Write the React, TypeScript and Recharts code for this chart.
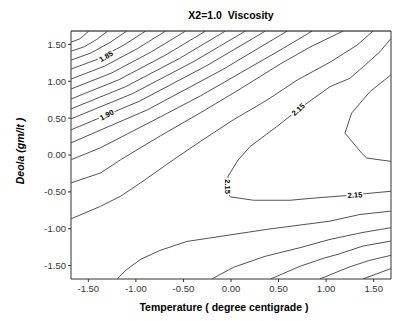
import React from "react";
import { ScatterChart, Scatter, XAxis, YAxis } from "recharts";

const FONT = '"Liberation Sans", Arial, sans-serif';
const LIM = 1.682;

const xTicks = [-1.5, -1, -0.5, 0, 0.5, 1, 1.5];
const yTicks = [-1.5, -1, -0.5, 0, 0.5, 1, 1.5];

// contour lines, [temperature, deola] pairs
const c01 = [[-1.68, 1.531], [-1.585, 1.578], [-1.496, 1.68]];
const c02 = [[-1.68, 1.409], [-1.542, 1.468], [-1.41, 1.569], [-1.297, 1.68]];
const c03 = [[-1.68, 1.288], [-1.472, 1.384], [-1.27, 1.528], [-1.097, 1.68]];
const c04 = [[-1.68, 1.166], [-1.403, 1.299], [-1.131, 1.488], [-0.898, 1.68]];
const c05 = [[-1.68, 1.031], [-1.329, 1.205], [-0.984, 1.443], [-0.689, 1.68]];
const c06 = [[-1.68, 0.896], [-1.256, 1.112], [-0.838, 1.399], [-0.479, 1.68]];
const c07 = [[-1.68, 0.761], [-1.182, 1.019], [-0.691, 1.353], [-0.269, 1.68]];
const c08 = [[-1.68, 0.626], [-1.109, 0.926], [-0.544, 1.308], [-0.06, 1.68]];
const c09 = [[-1.68, 0.491], [-1.036, 0.832], [-0.397, 1.264], [0.15, 1.68]];
const c10 = [[-1.68, 0.342], [-0.962, 0.73], [-0.251, 1.215], [0.36, 1.68]];
const c11 = [[-1.68, 0.166], [-0.882, 0.611], [-0.089, 1.158], [0.59, 1.68]];
const c12 = [
  [-1.68, -0.064], [-1.37, 0.099], [-1.087, 0.288], [-0.741, 0.518],
  [-0.322, 0.801], [0.097, 1.112], [0.517, 1.423], [0.852, 1.68],
];
const c13 = [
  [-1.68, -0.378], [-1.37, -0.243], [-1.16, -0.064], [-0.741, 0.261],
  [-0.322, 0.572], [0.097, 0.896], [0.517, 1.234], [0.831, 1.464], [1.177, 1.68],
];
const c14 = [
  [-1.68, -0.865], [-1.37, -0.695], [-1.16, -0.559], [-0.951, -0.378],
  [-0.605, -0.064], [-0.322, 0.184], [0.024, 0.477], [0.38, 0.746],
  [0.695, 1.016], [1.041, 1.259], [1.324, 1.489], [1.492, 1.68],
];
const c15 = [
  [1.68, 1.578], [1.565, 1.4], [1.39, 1.197], [1.251, 1.041], [1.041, 0.927],
  [0.726, 0.635], [0.482, 0.386], [0.202, 0.116], [0.077, -0.064],
  [-0.031, -0.289], [-0.031, -0.514], [-0.007, -0.568], [0.237, -0.614],
  [0.622, -0.614], [0.901, -0.581], [1.216, -0.55], [1.426, -0.523], [1.68, -0.492],
];
const c16 = [
  [1.68, 1.085], [1.46, 0.859], [1.268, 0.568], [1.198, 0.297],
  [1.373, 0.027], [1.426, -0.041], [1.68, -0.086],
];
const c17 = [
  [1.68, -0.762], [1.355, -0.807], [1.041, -0.897], [0.377, -1.009],
  [-0.461, -1.172], [-0.744, -1.293], [-0.951, -1.416], [-1.108, -1.565], [-1.195, -1.68],
];
const c18 = [
  [1.68, -0.986], [1.387, -1.05], [1.041, -1.145], [0.726, -1.257],
  [0.36, -1.374], [0.027, -1.523], [-0.199, -1.68],
];
const c19 = [
  [1.68, -1.168], [1.387, -1.235], [1.125, -1.347], [0.988, -1.395],
  [0.726, -1.509], [0.419, -1.68],
];
const c20 = [[1.68, -1.361], [1.46, -1.428], [1.251, -1.516], [0.936, -1.68]];
const c21 = [[1.68, -1.541], [1.39, -1.68]];

const contours = [
  c01, c02, c03, c04, c05, c06, c07, c08, c09, c10, c11,
  c12, c13, c14, c15, c16, c17, c18, c19, c20, c21,
];

// contour value labels
const labelText = ["1.85", "1.90", "2.15", "2.15", "2.15"];
const labelX = [-1.314, -1.307, 0.705, -0.031, 1.303];
const labelY = [1.34, 0.545, 0.619, -0.428, -0.539];

const labelAngles = [-30, -28, -42, 90, -3];

const toPts = (arr: number[][]) => arr.map(([x, y]) => ({ x, y }));
const labelData = labelText.map((text, i) => ({ x: labelX[i], y: labelY[i], text, i }));

const fmt = (v: number) => v.toFixed(2);
const noDot = () => <g />;

const ContourLabel = (props: any) => {
  const { cx, cy, payload } = props;
  const a = labelAngles[payload.i];
  return (
    <g transform={`translate(${cx},${cy}) rotate(${a})`}>
      <rect x={-8.5} y={-3.8} width={17} height={7.6} fill="#fff" />
      <text
        x={0}
        y={2.8}
        textAnchor="middle"
        fontSize={7.5}
        fontWeight="bold"
        fontFamily={FONT}
        fill="#000"
      >
        {payload.text}
      </text>
    </g>
  );
};

const tickStyle = { fill: "#333", fontSize: 9.5, fontFamily: FONT };

export default function App() {
  return (
    <div
      style={{
        position: "fixed",
        left: 0,
        top: 0,
        width: 401,
        height: 321,
        background: "#fff",
        fontFamily: FONT,
      }}
    >
      <ScatterChart
        width={401}
        height={321}
        margin={{ top: 21, right: 0, bottom: 12, left: 0 }}
      >
        <XAxis
          dataKey="x"
          type="number"
          domain={[-LIM, LIM]}
          ticks={xTicks}
          allowDataOverflow
          tickFormatter={fmt}
          tickSize={3}
          tickMargin={3}
          height={30}
          tick={tickStyle}
          axisLine={{ stroke: "#333" }}
          tickLine={{ stroke: "#333" }}
        />
        <XAxis
          xAxisId="top"
          orientation="top"
          type="number"
          domain={[-LIM, LIM]}
          ticks={xTicks}
          allowDataOverflow
          tickSize={3}
          height={10}
          tick={false}
          axisLine={{ stroke: "#000" }}
          tickLine={{ stroke: "#333" }}
        />
        <YAxis
          dataKey="y"
          type="number"
          domain={[-LIM, LIM]}
          ticks={yTicks}
          allowDataOverflow
          tickFormatter={fmt}
          tickSize={3}
          tickMargin={2}
          width={71}
          tick={tickStyle}
          axisLine={{ stroke: "#333" }}
          tickLine={{ stroke: "#333" }}
        />
        <YAxis
          yAxisId="right"
          orientation="right"
          type="number"
          domain={[-LIM, LIM]}
          ticks={yTicks}
          allowDataOverflow
          tickSize={3}
          width={10}
          tick={false}
          axisLine={{ stroke: "#333" }}
          tickLine={{ stroke: "#333" }}
        />
        {contours.map((c, i) => (
          <Scatter
            key={`c-${i}`}
            data={toPts(c)}
            line={{ stroke: "#333", strokeWidth: 0.85 }}
            lineType="joint"
            shape={noDot}
            isAnimationActive={false}
          />
        ))}
        <Scatter
          data={labelData}
          shape={ContourLabel}
          isAnimationActive={false}
        />
      </ScatterChart>

      <div
        style={{
          position: "absolute",
          left: 231,
          top: 9,
          transform: "translateX(-50%)",
          fontSize: 10.5,
          fontWeight: "bold",
          lineHeight: "12px",
          whiteSpace: "pre",
          color: "#000",
        }}
      >
        {"X2=1.0  Viscosity"}
      </div>
      <div
        style={{
          position: "absolute",
          left: 224,
          top: 301,
          transform: "translateX(-50%)",
          fontSize: 10.5,
          fontWeight: "bold",
          lineHeight: "12px",
          whiteSpace: "pre",
          color: "#000",
        }}
      >
        {"Temperature ( degree centigrade )"}
      </div>
      <div
        style={{
          position: "absolute",
          left: 20,
          top: 151,
          transform: "translate(-50%, -50%) rotate(-90deg)",
          fontSize: 10.5,
          fontWeight: "bold",
          fontStyle: "italic",
          lineHeight: "12px",
          whiteSpace: "pre",
          color: "#000",
        }}
      >
        {"Deola (gm/lt )"}
      </div>
    </div>
  );
}
